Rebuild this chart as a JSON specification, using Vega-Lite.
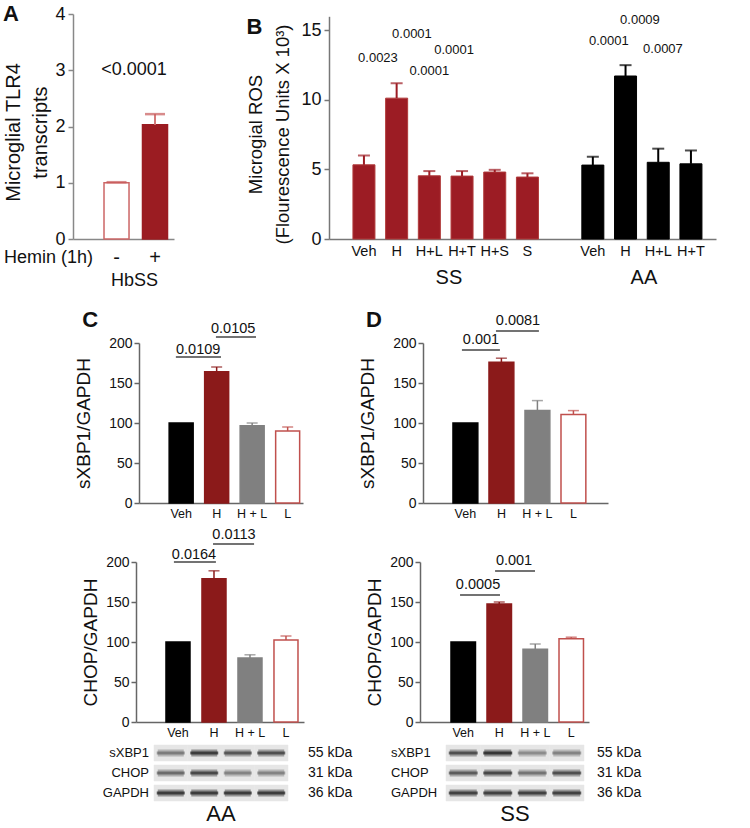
{
"$schema": "https://vega.github.io/schema/vega-lite/v6.json",
"padding": {"left": 2, "top": 3, "right": 5, "bottom": 5},
"background": "white",
"columns": 2,
"align": "each",
"bounds": "flush",
"spacing": {"row": 20, "column": 20},
"resolve": {"scale": {"fill": "independent", "stroke": "independent", "color": "independent", "opacity": "independent", "fillOpacity": "independent"}},
"config": {
 "font": "Liberation Sans",
 "view": {"stroke": null},
 "axis": {"grid": false, "domainColor": "#666", "tickColor": "#666", "labelColor": "#111", "titleColor": "#111", "titleFontWeight": "normal", "domainWidth": 1.5, "tickWidth": 1.5},
 "text": {"color": "#111"}
},
"concat": [
  {
   "width": 101, "height": 225,
   "data": {"values": [{"hemin": "-", "mean": 1.0, "err": 1.01}, {"hemin": "+", "mean": 2.03, "err": 2.22}]},
   "layer": [
    {"mark": {"type": "bar", "strokeWidth": 1.5},
     "encoding": {
      "x": {"field": "hemin", "type": "nominal", "scale": {"domain": ["-", "+"], "paddingInner": 0.35, "paddingOuter": 0.487, "align": 0.827},
        "axis": {"title": "HbSS", "titleX": 61, "titleY": 41, "titleAlign": "center", "titleBaseline": "middle", "titleFontSize": 18, "labelFontSize": 20, "labelAngle": 0, "ticks": false, "labelPadding": 18, "labelBaseline": "middle", "domainColor": "#888"}},
      "y": {"field": "mean", "type": "quantitative", "scale": {"domain": [0, 4]},
        "axis": {"values": [0, 1, 2, 3, 4], "format": "d", "title": ["Microglial TLR4", "transcripts"], "titleFontSize": 20, "titleLineHeight": 27, "titleX": -60, "titleY": 118, "titleAlign": "center", "titleBaseline": "middle", "labelFontSize": 18, "tickSize": 5, "labelPadding": 3, "domainColor": "#888", "tickColor": "#888"}},
      "fill": {"field": "hemin", "type": "nominal", "scale": {"domain": ["-", "+"], "range": ["#ffffff", "#9b1c22"]}, "legend": null},
      "stroke": {"field": "hemin", "type": "nominal", "scale": {"domain": ["-", "+"], "range": ["#cc6666", "#9b1c22"]}, "legend": null}
     }},
    {"mark": {"type": "rule", "strokeWidth": 2, "color": "#d47a7a"},
     "encoding": {"x": {"field": "hemin", "type": "nominal"}, "y": {"field": "mean", "type": "quantitative"}, "y2": {"field": "err"}}},
    {"mark": {"type": "tick", "thickness": 2.5, "size": 20, "orient": "horizontal", "color": "#c85a5a"},
     "encoding": {"x": {"field": "hemin", "type": "nominal"}, "y": {"field": "err", "type": "quantitative"}}},
    {"data": {"values": [{}]}, "mark": {"type": "text", "fontSize": 18, "dx": -21},
     "encoding": {"x": {"datum": "+"}, "y": {"datum": 3.0}, "text": {"value": "<0.0001"}}},
    {"data": {"values": [{}]}, "mark": {"type": "text", "fontSize": 18, "align": "left", "dx": -112.5},
     "encoding": {"x": {"datum": "-"}, "y": {"datum": -0.33}, "text": {"value": "Hemin (1h)"}}},
    {"data": {"values": [{}]}, "mark": {"type": "text", "fontSize": 22, "fontWeight": "bold", "dx": -105.5},
     "encoding": {"x": {"datum": "-"}, "y": {"datum": 4.0}, "text": {"value": "A"}}}
   ]
  },
  {
   "width": 387, "height": 225,
   "data": {"values": [
    {"cat": "SS|Veh", "grp": "SS", "mean": 5.33, "err": 6.0},
    {"cat": "SS|H", "grp": "SS", "mean": 10.12, "err": 11.19},
    {"cat": "SS|H+L", "grp": "SS", "mean": 4.54, "err": 4.88},
    {"cat": "SS|H+T", "grp": "SS", "mean": 4.52, "err": 4.88},
    {"cat": "SS|H+S", "grp": "SS", "mean": 4.81, "err": 4.97},
    {"cat": "SS|S", "grp": "SS", "mean": 4.45, "err": 4.72},
    {"cat": "AA|Veh", "grp": "AA", "mean": 5.31, "err": 5.91},
    {"cat": "AA|H", "grp": "AA", "mean": 11.71, "err": 12.49},
    {"cat": "AA|H+L", "grp": "AA", "mean": 5.51, "err": 6.49},
    {"cat": "AA|H+T", "grp": "AA", "mean": 5.4, "err": 6.36}
   ]},
   "layer": [
    {"mark": {"type": "bar", "strokeWidth": 1},
     "encoding": {
      "x": {"field": "cat", "type": "nominal",
        "scale": {"domain": ["SS|Veh", "SS|H", "SS|H+L", "SS|H+T", "SS|H+S", "SS|S", "gap", "AA|Veh", "AA|H", "AA|H+L", "AA|H+T"], "paddingInner": 0.327, "paddingOuter": 0.581, "align": 0.63},
        "axis": {"title": null, "labelExpr": "datum.value == 'gap' ? '' : split(datum.value, '|')[1]", "labelFontSize": 14.5, "labelAngle": 0, "ticks": false, "labelPadding": 5, "domainColor": "#777"}},
      "y": {"field": "mean", "type": "quantitative", "scale": {"domain": [0, 15], "range": [225, 2.3]},
        "axis": {"values": [0, 5, 10, 15], "format": "d", "title": ["Microgial ROS", "(Flourescence Units X 10³)"], "titleFontSize": 18.5, "titleLineHeight": 27, "titleX": -73.5, "titleY": 120, "titleAlign": "center", "titleBaseline": "middle", "labelFontSize": 18, "tickSize": 5, "labelPadding": 3, "domainColor": "#777", "tickColor": "#777"}},
      "fill": {"field": "grp", "type": "nominal", "scale": {"domain": ["SS", "AA"], "range": ["#9c1c24", "#000000"]}, "legend": null},
      "stroke": {"field": "grp", "type": "nominal", "scale": {"domain": ["SS", "AA"], "range": ["#b03a3a", "#000000"]}, "legend": null}
     }},
    {"mark": {"type": "rule", "strokeWidth": 2},
     "encoding": {"x": {"field": "cat", "type": "nominal"}, "y": {"field": "mean", "type": "quantitative"}, "y2": {"field": "err"},
      "color": {"field": "grp", "type": "nominal", "scale": {"domain": ["SS", "AA"], "range": ["#9c1c24", "#000000"]}, "legend": null}}},
    {"mark": {"type": "tick", "thickness": 2, "size": 12, "orient": "horizontal"},
     "encoding": {"x": {"field": "cat", "type": "nominal"}, "y": {"field": "err", "type": "quantitative"},
      "color": {"field": "grp", "type": "nominal", "legend": null}}},
    {"data": {"values": [{}]}, "mark": {"type": "text", "fontSize": 13, "dx": -18.7}, "encoding": {"x": {"datum": "SS|H"}, "y": {"datum": 13.0}, "text": {"value": "0.0023"}}},
    {"data": {"values": [{}]}, "mark": {"type": "text", "fontSize": 13, "dx": 15.3}, "encoding": {"x": {"datum": "SS|H"}, "y": {"datum": 14.75}, "text": {"value": "0.0001"}}},
    {"data": {"values": [{}]}, "mark": {"type": "text", "fontSize": 13, "dx": 0}, "encoding": {"x": {"datum": "SS|H+L"}, "y": {"datum": 12.06}, "text": {"value": "0.0001"}}},
    {"data": {"values": [{}]}, "mark": {"type": "text", "fontSize": 13, "dx": -8}, "encoding": {"x": {"datum": "SS|H+T"}, "y": {"datum": 13.6}, "text": {"value": "0.0001"}}},
    {"data": {"values": [{}]}, "mark": {"type": "text", "fontSize": 13, "dx": 14.4}, "encoding": {"x": {"datum": "AA|H"}, "y": {"datum": 15.76}, "text": {"value": "0.0009"}}},
    {"data": {"values": [{}]}, "mark": {"type": "text", "fontSize": 13, "dx": 16}, "encoding": {"x": {"datum": "AA|Veh"}, "y": {"datum": 14.21}, "text": {"value": "0.0001"}}},
    {"data": {"values": [{}]}, "mark": {"type": "text", "fontSize": 13, "dx": 4.7}, "encoding": {"x": {"datum": "AA|H+L"}, "y": {"datum": 13.67}, "text": {"value": "0.0007"}}},
    {"data": {"values": [{}]}, "mark": {"type": "text", "fontSize": 20, "dx": 19.6}, "encoding": {"x": {"datum": "SS|H+L"}, "y": {"datum": -2.83}, "text": {"value": "SS"}}},
    {"data": {"values": [{}]}, "mark": {"type": "text", "fontSize": 20, "dx": 18.4}, "encoding": {"x": {"datum": "AA|H"}, "y": {"datum": -2.83}, "text": {"value": "AA"}}},
    {"data": {"values": [{}]}, "mark": {"type": "text", "fontSize": 22, "fontWeight": "bold", "dx": -109.5}, "encoding": {"x": {"datum": "SS|Veh"}, "y": {"datum": 15.22}, "text": {"value": "B"}}}
   ]
  },
  {
   "width": 236, "height": 244,
   "data": {"values": [{"cat": "Veh", "mean": 100, "err": 100}, {"cat": "H", "mean": 164, "err": 170}, {"cat": "H + L", "mean": 96.5, "err": 100}, {"cat": "L", "mean": 90, "err": 95}]},
   "layer": [
    {"mark": {"type": "bar", "strokeWidth": 1.5},
     "encoding": {
      "x": {"field": "cat", "type": "nominal", "scale": {"domain": ["Veh", "H", "H + L", "L"], "range": [66, 230], "paddingInner": 0.324, "paddingOuter": 0.472, "align": 0.9},
        "axis": {"title": null, "labelFontSize": 12.5, "labelAngle": 0, "ticks": false, "labelPadding": 4}},
      "y": {"field": "mean", "type": "quantitative", "scale": {"domain": [0, 200], "range": [244, 84]},
        "axis": {"values": [0, 50, 100, 150, 200], "format": "d", "offset": -66, "title": "sXBP1/GAPDH", "titleFontSize": 19, "titleX": -56, "titleY": 164, "titleAlign": "center", "titleBaseline": "middle", "labelFontSize": 14, "tickSize": 5, "labelPadding": 2}},
      "fill": {"field": "cat", "type": "nominal", "scale": {"domain": ["Veh", "H", "H + L", "L"], "range": ["#000000", "#8b1a1a", "#808080", "#ffffff"]}, "legend": null},
      "stroke": {"field": "cat", "type": "nominal", "scale": {"domain": ["Veh", "H", "H + L", "L"], "range": ["#000000", "#8b1a1a", "#808080", "#c0504d"]}, "legend": null}
     }},
    {"transform": [{"filter": "datum.err > datum.mean"}], "mark": {"type": "rule", "strokeWidth": 1.5},
     "encoding": {"x": {"field": "cat", "type": "nominal"}, "y": {"field": "mean", "type": "quantitative"}, "y2": {"field": "err"}, "color": {"field": "cat", "type": "nominal", "scale": {"domain": ["Veh", "H", "H + L", "L"], "range": ["#000000", "#8b1a1a", "#808080", "#c0504d"]}, "legend": null}}},
    {"transform": [{"filter": "datum.err > datum.mean"}], "mark": {"type": "tick", "thickness": 1.5, "size": 11, "orient": "horizontal"},
     "encoding": {"x": {"field": "cat", "type": "nominal"}, "y": {"field": "err", "type": "quantitative"}, "color": {"field": "cat", "type": "nominal", "legend": null}}},
    {"data": {"values": [{}]}, "mark": {"type": "rule", "strokeWidth": 1.5, "color": "#444"}, "encoding": {"x": {"datum": "Veh", "bandPosition": 0.28}, "x2": {"datum": "H", "bandPosition": 0.68}, "y": {"datum": 182.5}}},
    {"data": {"values": [{}]}, "mark": {"type": "text", "fontSize": 14.5, "dx": 17}, "encoding": {"x": {"datum": "Veh"}, "y": {"datum": 191.5}, "text": {"value": "0.0109"}}},
    {"data": {"values": [{}]}, "mark": {"type": "rule", "strokeWidth": 1.5, "color": "#444"}, "encoding": {"x": {"datum": "H", "bandPosition": 0.47}, "x2": {"datum": "H + L", "bandPosition": 0.66}, "y": {"datum": 207.5}}},
    {"data": {"values": [{}]}, "mark": {"type": "text", "fontSize": 14.5, "dx": 16.5}, "encoding": {"x": {"datum": "H"}, "y": {"datum": 217.5}, "text": {"value": "0.0105"}}},
    {"data": {"values": [{}]}, "mark": {"type": "text", "fontSize": 22, "fontWeight": "bold", "dx": -91}, "encoding": {"x": {"datum": "Veh"}, "y": {"datum": 228.75}, "text": {"value": "C"}}}
   ]
  },
  {
   "width": 200, "height": 244,
   "data": {"values": [{"cat": "Veh", "mean": 100, "err": 100}, {"cat": "H", "mean": 176, "err": 181}, {"cat": "H + L", "mean": 115.5, "err": 128}, {"cat": "L", "mean": 110.5, "err": 115.5}]},
   "layer": [
    {"mark": {"type": "bar", "strokeWidth": 1.5},
     "encoding": {
      "x": {"field": "cat", "type": "nominal", "scale": {"domain": ["Veh", "H", "H + L", "L"], "range": [94, 279], "paddingInner": 0.31, "paddingOuter": 0.724, "align": 0.575},
        "axis": {"title": null, "labelFontSize": 12.5, "labelAngle": 0, "ticks": false, "labelPadding": 4}},
      "y": {"field": "mean", "type": "quantitative", "scale": {"domain": [0, 200], "range": [244, 84]},
        "axis": {"values": [0, 50, 100, 150, 200], "format": "d", "offset": -94, "title": "sXBP1/GAPDH", "titleFontSize": 19, "titleX": -56, "titleY": 164, "titleAlign": "center", "titleBaseline": "middle", "labelFontSize": 14, "tickSize": 5, "labelPadding": 2}},
      "fill": {"field": "cat", "type": "nominal", "scale": {"domain": ["Veh", "H", "H + L", "L"], "range": ["#000000", "#8b1a1a", "#808080", "#ffffff"]}, "legend": null},
      "stroke": {"field": "cat", "type": "nominal", "scale": {"domain": ["Veh", "H", "H + L", "L"], "range": ["#000000", "#8b1a1a", "#808080", "#c0504d"]}, "legend": null}
     }},
    {"transform": [{"filter": "datum.err > datum.mean"}], "mark": {"type": "rule", "strokeWidth": 1.5},
     "encoding": {"x": {"field": "cat", "type": "nominal"}, "y": {"field": "mean", "type": "quantitative"}, "y2": {"field": "err"}, "color": {"field": "cat", "type": "nominal", "scale": {"domain": ["Veh", "H", "H + L", "L"], "range": ["#000000", "#8b1a1a", "#808080", "#c0504d"]}, "legend": null}}},
    {"transform": [{"filter": "datum.err > datum.mean"}], "mark": {"type": "tick", "thickness": 1.5, "size": 11, "orient": "horizontal"},
     "encoding": {"x": {"field": "cat", "type": "nominal"}, "y": {"field": "err", "type": "quantitative"}, "color": {"field": "cat", "type": "nominal", "legend": null}}},
    {"data": {"values": [{}]}, "mark": {"type": "rule", "strokeWidth": 1.5, "color": "#444"}, "encoding": {"x": {"datum": "Veh", "bandPosition": 0.36}, "x2": {"datum": "H", "bandPosition": 0.44}, "y": {"datum": 191.25}}},
    {"data": {"values": [{}]}, "mark": {"type": "text", "fontSize": 14.5, "dx": 15.6}, "encoding": {"x": {"datum": "Veh"}, "y": {"datum": 203.75}, "text": {"value": "0.001"}}},
    {"data": {"values": [{}]}, "mark": {"type": "rule", "strokeWidth": 1.5, "color": "#444"}, "encoding": {"x": {"datum": "H", "bandPosition": 0.28}, "x2": {"datum": "H + L", "bandPosition": 0.56}, "y": {"datum": 215}}},
    {"data": {"values": [{}]}, "mark": {"type": "text", "fontSize": 14.5, "dx": 16.6}, "encoding": {"x": {"datum": "H"}, "y": {"datum": 227.5}, "text": {"value": "0.0081"}}},
    {"data": {"values": [{}]}, "mark": {"type": "text", "fontSize": 22, "fontWeight": "bold", "dx": -91.4}, "encoding": {"x": {"datum": "Veh"}, "y": {"datum": 228.75}, "text": {"value": "D"}}}
   ]
  },
  {
   "width": 236, "height": 199,
   "data": {"values": [{"cat": "Veh", "mean": 100, "err": 100}, {"cat": "H", "mean": 179, "err": 189}, {"cat": "H + L", "mean": 80, "err": 84}, {"cat": "L", "mean": 102.5, "err": 107.5}]},
   "layer": [
    {"mark": {"type": "bar", "strokeWidth": 1.5},
     "encoding": {
      "x": {"field": "cat", "type": "nominal", "scale": {"domain": ["Veh", "H", "H + L", "L"], "range": [63, 231], "paddingInner": 0.333, "paddingOuter": 0.5, "align": 0.833},
        "axis": {"title": null, "labelFontSize": 12.5, "labelAngle": 0, "ticks": false, "labelPadding": 4}},
      "y": {"field": "mean", "type": "quantitative", "scale": {"domain": [0, 200], "range": [199, 39]},
        "axis": {"values": [0, 50, 100, 150, 200], "format": "d", "offset": -63, "title": "CHOP/GAPDH", "titleFontSize": 19, "titleX": -46, "titleY": 119, "titleAlign": "center", "titleBaseline": "middle", "labelFontSize": 14, "tickSize": 5, "labelPadding": 2}},
      "fill": {"field": "cat", "type": "nominal", "scale": {"domain": ["Veh", "H", "H + L", "L"], "range": ["#000000", "#8b1a1a", "#808080", "#ffffff"]}, "legend": null},
      "stroke": {"field": "cat", "type": "nominal", "scale": {"domain": ["Veh", "H", "H + L", "L"], "range": ["#000000", "#8b1a1a", "#808080", "#c0504d"]}, "legend": null}
     }},
    {"transform": [{"filter": "datum.err > datum.mean"}], "mark": {"type": "rule", "strokeWidth": 1.5},
     "encoding": {"x": {"field": "cat", "type": "nominal"}, "y": {"field": "mean", "type": "quantitative"}, "y2": {"field": "err"}, "color": {"field": "cat", "type": "nominal", "scale": {"domain": ["Veh", "H", "H + L", "L"], "range": ["#000000", "#8b1a1a", "#808080", "#c0504d"]}, "legend": null}}},
    {"transform": [{"filter": "datum.err > datum.mean"}], "mark": {"type": "tick", "thickness": 1.5, "size": 11, "orient": "horizontal"},
     "encoding": {"x": {"field": "cat", "type": "nominal"}, "y": {"field": "err", "type": "quantitative"}, "color": {"field": "cat", "type": "nominal", "legend": null}}},
    {"data": {"values": [{}]}, "mark": {"type": "rule", "strokeWidth": 1.5, "color": "#444"}, "encoding": {"x": {"datum": "Veh", "bandPosition": 0.33}, "x2": {"datum": "H", "bandPosition": 0.58}, "y": {"datum": 200}}},
    {"data": {"values": [{}]}, "mark": {"type": "text", "fontSize": 14.5, "dx": 16}, "encoding": {"x": {"datum": "Veh"}, "y": {"datum": 208.75}, "text": {"value": "0.0164"}}},
    {"data": {"values": [{}]}, "mark": {"type": "rule", "strokeWidth": 1.5, "color": "#444"}, "encoding": {"x": {"datum": "H", "bandPosition": 0.46}, "x2": {"datum": "H + L", "bandPosition": 0.67}, "y": {"datum": 222.5}}},
    {"data": {"values": [{}]}, "mark": {"type": "text", "fontSize": 14.5, "dx": 20}, "encoding": {"x": {"datum": "H"}, "y": {"datum": 233.75}, "text": {"value": "0.0113"}}}
   ]
  },
  {
   "width": 200, "height": 199,
   "data": {"values": [{"cat": "Veh", "mean": 100, "err": 100}, {"cat": "H", "mean": 147.5, "err": 150}, {"cat": "H + L", "mean": 91, "err": 97.5}, {"cat": "L", "mean": 104, "err": 106}]},
   "layer": [
    {"mark": {"type": "bar", "strokeWidth": 1.5},
     "encoding": {
      "x": {"field": "cat", "type": "nominal", "scale": {"domain": ["Veh", "H", "H + L", "L"], "range": [91, 260], "paddingInner": 0.32, "paddingOuter": 0.507, "align": 0.849},
        "axis": {"title": null, "labelFontSize": 12.5, "labelAngle": 0, "ticks": false, "labelPadding": 4}},
      "y": {"field": "mean", "type": "quantitative", "scale": {"domain": [0, 200], "range": [199, 39]},
        "axis": {"values": [0, 50, 100, 150, 200], "format": "d", "offset": -91, "title": "CHOP/GAPDH", "titleFontSize": 19, "titleX": -46, "titleY": 119, "titleAlign": "center", "titleBaseline": "middle", "labelFontSize": 14, "tickSize": 5, "labelPadding": 2}},
      "fill": {"field": "cat", "type": "nominal", "scale": {"domain": ["Veh", "H", "H + L", "L"], "range": ["#000000", "#8b1a1a", "#808080", "#ffffff"]}, "legend": null},
      "stroke": {"field": "cat", "type": "nominal", "scale": {"domain": ["Veh", "H", "H + L", "L"], "range": ["#000000", "#8b1a1a", "#808080", "#c0504d"]}, "legend": null}
     }},
    {"transform": [{"filter": "datum.err > datum.mean"}], "mark": {"type": "rule", "strokeWidth": 1.5},
     "encoding": {"x": {"field": "cat", "type": "nominal"}, "y": {"field": "mean", "type": "quantitative"}, "y2": {"field": "err"}, "color": {"field": "cat", "type": "nominal", "scale": {"domain": ["Veh", "H", "H + L", "L"], "range": ["#000000", "#8b1a1a", "#808080", "#c0504d"]}, "legend": null}}},
    {"transform": [{"filter": "datum.err > datum.mean"}], "mark": {"type": "tick", "thickness": 1.5, "size": 11, "orient": "horizontal"},
     "encoding": {"x": {"field": "cat", "type": "nominal"}, "y": {"field": "err", "type": "quantitative"}, "color": {"field": "cat", "type": "nominal", "legend": null}}},
    {"data": {"values": [{}]}, "mark": {"type": "rule", "strokeWidth": 1.5, "color": "#444"}, "encoding": {"x": {"datum": "Veh", "bandPosition": 0.37}, "x2": {"datum": "H", "bandPosition": 0.53}, "y": {"datum": 158.75}}},
    {"data": {"values": [{}]}, "mark": {"type": "text", "fontSize": 14.5, "dx": 14.8}, "encoding": {"x": {"datum": "Veh"}, "y": {"datum": 171.25}, "text": {"value": "0.0005"}}},
    {"data": {"values": [{}]}, "mark": {"type": "rule", "strokeWidth": 1.5, "color": "#444"}, "encoding": {"x": {"datum": "H", "bandPosition": 0.33}, "x2": {"datum": "H + L", "bandPosition": 0.49}, "y": {"datum": 188.75}}},
    {"data": {"values": [{}]}, "mark": {"type": "text", "fontSize": 14.5, "dx": 14.8}, "encoding": {"x": {"datum": "H"}, "y": {"datum": 201.25}, "text": {"value": "0.001"}}}
   ]
  },
  {
   "width": 236, "height": 59,
   "data": {"values": [
    {"lane": "Veh", "row": "sXBP1", "v": 0.5}, {"lane": "H", "row": "sXBP1", "v": 0.95}, {"lane": "H + L", "row": "sXBP1", "v": 0.75}, {"lane": "L", "row": "sXBP1", "v": 0.8},
    {"lane": "Veh", "row": "CHOP", "v": 0.6}, {"lane": "H", "row": "CHOP", "v": 0.85}, {"lane": "H + L", "row": "CHOP", "v": 0.45}, {"lane": "L", "row": "CHOP", "v": 0.45},
    {"lane": "Veh", "row": "GAPDH", "v": 0.95}, {"lane": "H", "row": "GAPDH", "v": 0.95}, {"lane": "H + L", "row": "GAPDH", "v": 0.95}, {"lane": "L", "row": "GAPDH", "v": 0.95}
   ]},
   "layer": [
    {"mark": {"type": "rect", "fill": "#e6e6e6", "stroke": "#e6e6e6", "strokeWidth": 0.5},
     "encoding": {
      "x": {"field": "lane", "type": "nominal", "scale": {"domain": ["Veh", "H", "H + L", "L"], "range": [81, 215], "paddingInner": 0, "paddingOuter": 0}, "axis": null},
      "y": {"field": "row", "type": "nominal", "scale": {"domain": ["sXBP1", "CHOP", "GAPDH"], "range": [3, 59], "paddingInner": 0.2, "paddingOuter": 0}, "axis": null}}},
    {"mark": {"type": "tick", "thickness": 7, "size": 26, "orient": "horizontal", "color": "#222"},
     "encoding": {"x": {"field": "lane", "type": "nominal"}, "y": {"field": "row", "type": "nominal"},
      "opacity": {"field": "v", "type": "quantitative", "scale": {"domain": [0, 1], "range": [0.05, 0.45]}, "legend": null}}},
    {"mark": {"type": "tick", "thickness": 3, "size": 28, "orient": "horizontal", "color": "#111"},
     "encoding": {"x": {"field": "lane", "type": "nominal"}, "y": {"field": "row", "type": "nominal"},
      "fillOpacity": {"field": "v", "type": "quantitative", "scale": {"domain": [0, 1], "range": [0, 1]}, "legend": null}}},
    {"data": {"values": [{"row": "sXBP1", "kda": "55 kDa"}, {"row": "CHOP", "kda": "31 kDa"}, {"row": "GAPDH", "kda": "36 kDa"}]},
     "mark": {"type": "text", "fontSize": 13, "align": "right", "dx": -21.75},
     "encoding": {"x": {"datum": "Veh"}, "y": {"field": "row", "type": "nominal"}, "text": {"field": "row"}}},
    {"data": {"values": [{"row": "sXBP1", "kda": "55 kDa"}, {"row": "CHOP", "kda": "31 kDa"}, {"row": "GAPDH", "kda": "36 kDa"}]},
     "mark": {"type": "text", "fontSize": 14, "align": "left", "dx": 36.75},
     "encoding": {"x": {"datum": "L"}, "y": {"field": "row", "type": "nominal"}, "text": {"field": "kda"}}},
    {"data": {"values": [{}]}, "mark": {"type": "text", "fontSize": 22, "dx": 16.75, "dy": 21},
     "encoding": {"x": {"datum": "H"}, "y": {"datum": "GAPDH"}, "text": {"value": "AA"}}}
   ]
  },
  {
   "width": 200, "height": 59,
   "data": {"values": [
    {"lane": "Veh", "row": "sXBP1", "v": 0.8}, {"lane": "H", "row": "sXBP1", "v": 1.0}, {"lane": "H + L", "row": "sXBP1", "v": 0.4}, {"lane": "L", "row": "sXBP1", "v": 0.45},
    {"lane": "Veh", "row": "CHOP", "v": 0.7}, {"lane": "H", "row": "CHOP", "v": 0.85}, {"lane": "H + L", "row": "CHOP", "v": 0.55}, {"lane": "L", "row": "CHOP", "v": 0.8},
    {"lane": "Veh", "row": "GAPDH", "v": 0.9}, {"lane": "H", "row": "GAPDH", "v": 0.9}, {"lane": "H + L", "row": "GAPDH", "v": 0.9}, {"lane": "L", "row": "GAPDH", "v": 0.9}
   ]},
   "layer": [
    {"mark": {"type": "rect", "fill": "#e6e6e6", "stroke": "#e6e6e6", "strokeWidth": 0.5},
     "encoding": {
      "x": {"field": "lane", "type": "nominal", "scale": {"domain": ["Veh", "H", "H + L", "L"], "range": [117, 255], "paddingInner": 0, "paddingOuter": 0}, "axis": null},
      "y": {"field": "row", "type": "nominal", "scale": {"domain": ["sXBP1", "CHOP", "GAPDH"], "range": [3, 59], "paddingInner": 0.2, "paddingOuter": 0}, "axis": null}}},
    {"mark": {"type": "tick", "thickness": 7, "size": 27, "orient": "horizontal", "color": "#222"},
     "encoding": {"x": {"field": "lane", "type": "nominal"}, "y": {"field": "row", "type": "nominal"},
      "opacity": {"field": "v", "type": "quantitative", "scale": {"domain": [0, 1], "range": [0.05, 0.45]}, "legend": null}}},
    {"mark": {"type": "tick", "thickness": 3, "size": 29, "orient": "horizontal", "color": "#111"},
     "encoding": {"x": {"field": "lane", "type": "nominal"}, "y": {"field": "row", "type": "nominal"},
      "fillOpacity": {"field": "v", "type": "quantitative", "scale": {"domain": [0, 1], "range": [0, 1]}, "legend": null}}},
    {"data": {"values": [{"row": "sXBP1", "kda": "55 kDa"}, {"row": "CHOP", "kda": "31 kDa"}, {"row": "GAPDH", "kda": "36 kDa"}]},
     "mark": {"type": "text", "fontSize": 13, "align": "left", "dx": -72.25},
     "encoding": {"x": {"datum": "Veh"}, "y": {"field": "row", "type": "nominal"}, "text": {"field": "row"}}},
    {"data": {"values": [{"row": "sXBP1", "kda": "55 kDa"}, {"row": "CHOP", "kda": "31 kDa"}, {"row": "GAPDH", "kda": "36 kDa"}]},
     "mark": {"type": "text", "fontSize": 14, "align": "left", "dx": 30.25},
     "encoding": {"x": {"datum": "L"}, "y": {"field": "row", "type": "nominal"}, "text": {"field": "kda"}}},
    {"data": {"values": [{}]}, "mark": {"type": "text", "fontSize": 22, "dx": 17.25, "dy": 21},
     "encoding": {"x": {"datum": "H"}, "y": {"datum": "GAPDH"}, "text": {"value": "SS"}}}
   ]
  }
]
}
